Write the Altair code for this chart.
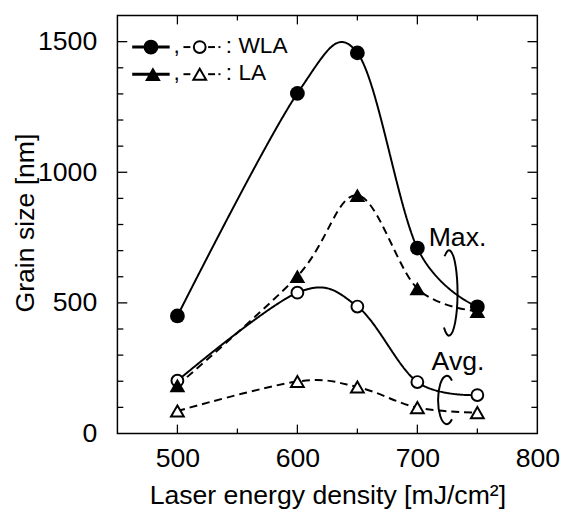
import altair as alt
import pandas as pd

# ---- data ----
energy = [500, 600, 650, 700, 750]
wla_max = [450, 1302, 1457, 710, 485]
wla_avg = [202, 539, 486, 197, 147]
la_max = [184, 602, 912, 555, 468]
la_avg = [86, 199, 178, 99, 80]

x_labels = [500, 600, 700, 800]
y_labels = [0, 500, 1000, 1500]
x_major = [500, 600, 700]
x_minor = [550, 650, 750]
y_major = [500, 1000, 1500]
y_minor = [100, 200, 300, 400, 600, 700, 800, 900, 1100, 1200, 1300, 1400]

W, H = 426, 424
FONT = "Liberation Sans"

xscale = alt.Scale(domain=[450, 800], nice=False, zero=False)
yscale = alt.Scale(domain=[0, 1600], nice=False, zero=False)

xaxis = alt.Axis(values=x_labels, ticks=False, tickSize=0, domain=False, grid=False,
                 labelPadding=33, labelBaseline="alphabetic", labelFlush=False,
                 title="Laser energy density [mJ/cm²]", titleX=213, titleY=71,
                 titleAlign="center", titleBaseline="alphabetic", format="d")
yaxis = alt.Axis(values=y_labels, ticks=False, tickSize=0, domain=False, grid=False,
                 labelPadding=21, title="Grain size [nm]", titleX=-85, titleY=210,
                 titleAngle=270, titleAlign="center", titleBaseline="alphabetic", format="d")


def X(field="x"):
    return alt.X(f"{field}:Q", scale=xscale, axis=xaxis)


def Y(field="y"):
    return alt.Y(f"{field}:Q", scale=yscale, axis=yaxis)


layers = []

# inward ticks on all four sides
for vals, ln in ((x_major, 9), (x_minor, 5)):
    d = pd.DataFrame({"x": vals})
    layers.append(alt.Chart(d).mark_rule(color="black", strokeWidth=1.3).encode(
        x=X(), y=alt.value(H), y2=alt.value(H - ln)))
    layers.append(alt.Chart(d).mark_rule(color="black", strokeWidth=1.3).encode(
        x=X(), y=alt.value(0), y2=alt.value(ln)))
for vals, ln in ((y_major, 10), (y_minor, 6)):
    d = pd.DataFrame({"y": vals})
    layers.append(alt.Chart(d).mark_rule(color="black", strokeWidth=1.3).encode(
        y=Y(), x=alt.value(0), x2=alt.value(ln)))
    layers.append(alt.Chart(d).mark_rule(color="black", strokeWidth=1.3).encode(
        y=Y(), x=alt.value(W), x2=alt.value(W - ln)))

series = [
    (wla_max, [1, 0], "circle", True),
    (wla_avg, [1, 0], "circle", False),
    (la_max, [8, 5], "triangle-up", True),
    (la_avg, [8, 5], "triangle-up", False),
]
lines = []
points = []
for vals, dash, shape, filled in series:
    d = pd.DataFrame({"x": energy, "y": vals})
    base = alt.Chart(d).encode(x=X(), y=Y())
    lines.append(base.mark_line(interpolate="cardinal", color="black", strokeWidth=2,
                                strokeDash=dash))
    if filled:
        size = 225 if shape == "circle" else 256
        points.append(base.mark_point(shape=shape, filled=True, fill="black",
                                      stroke="black", strokeWidth=0, size=size, opacity=1))
    else:
        size = 144 if shape == "circle" else 169
        points.append(base.mark_point(shape=shape, filled=True, fill="white",
                                      stroke="black", strokeWidth=2, size=size, opacity=1))
layers += lines + points

# annotations
one = pd.DataFrame({"a": [0]})


def txt(text, x, y, size, align="center"):
    return alt.Chart(one).mark_text(text=text, font=FONT, fontSize=size, align=align,
                                    baseline="alphabetic", color="black").encode(
        x=alt.value(x), y=alt.value(y))


layers.append(txt("Max.", 345, 233.5, 27))
layers.append(txt("Avg.", 345.5, 359.5, 27))

max_brace = "M -0.105,-0.85 A 0.2 1 0 1 1 -0.12,0.82"
avg_brace = "M 0.22,-0.8 A 0.36 1 0 1 0 0.22,0.8"
layers.append(alt.Chart(one).mark_point(shape=max_brace, filled=False, stroke="black",
                                        strokeWidth=2, size=7500, opacity=1).encode(
    x=alt.value(336.5), y=alt.value(281)))
layers.append(alt.Chart(one).mark_point(shape=avg_brace, filled=False, stroke="black",
                                        strokeWidth=2, size=2400, opacity=1).encode(
    x=alt.value(334), y=alt.value(390)))

# custom legend
rows = [(32, "circle", 225, 144, ": WLA", 34), (59.5, "triangle-up", 256, 169, ": LA", 36)]
for ry, shape, fsize, osize, label, mx in rows:
    layers.append(alt.Chart(one).mark_rule(color="black", strokeWidth=3).encode(
        x=alt.value(15), x2=alt.value(53), y=alt.value(ry)))
    layers.append(alt.Chart(one).mark_point(shape=shape, filled=True, fill="black",
                                            strokeWidth=0, size=fsize, opacity=1).encode(
        x=alt.value(mx), y=alt.value(ry)))
    layers.append(txt(",", 57, ry + 6, 23, align="left"))
    for x1, x2 in ((67, 74), (92, 99), (102.5, 104.5)):
        layers.append(alt.Chart(one).mark_rule(color="black", strokeWidth=2).encode(
            x=alt.value(x1), x2=alt.value(x2), y=alt.value(ry)))
    layers.append(alt.Chart(one).mark_point(shape=shape, filled=True, fill="white",
                                            stroke="black", strokeWidth=2, size=osize,
                                            opacity=1).encode(
        x=alt.value(83.5), y=alt.value(ry)))
    layers.append(txt(label, 110, ry + 6, 23, align="left"))

chart = alt.layer(*layers).properties(
    width=W, height=H,
    autosize=alt.AutoSizeParams(type="none"),
    padding={"left": 111, "top": 4, "right": 24, "bottom": 76},
).configure_view(stroke="black", strokeWidth=1.5).configure_axis(
    labelFont=FONT, labelFontSize=27, labelColor="black",
    titleFont=FONT, titleFontSize=27, titleFontWeight="normal", titleColor="black",
)

chart.save("out.html", embed_options={"renderer": "svg", "actions": False})
